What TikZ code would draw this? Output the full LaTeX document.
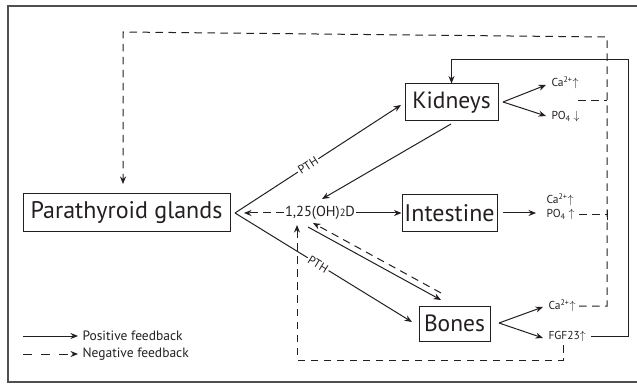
\documentclass[tikz,border=0pt]{standalone}
\usepackage{fontspec}
\setmainfont{PT Sans}
\usetikzlibrary{arrows.meta,calc}
\definecolor{ink}{HTML}{231F20}
\definecolor{framec}{HTML}{505050}
\begin{document}
\begin{tikzpicture}[x=1pt,y=-1pt,
  every path/.style={line width=1pt},
  box/.style={draw=ink, line width=1pt, inner sep=0pt, text=ink, font=\fontsize{24}{24}\selectfont},
  posarr/.style={draw=ink, -{Stealth[length=7.5pt,width=6pt]}},
  negarr/.style={draw=ink, dash pattern=on 7.5pt off 5.5pt, -{Stealth[length=7.5pt,width=6pt]}},
  negline/.style={draw=ink, dash pattern=on 7.5pt off 5.5pt},
  lab/.style={text=ink, inner sep=1pt, font=\fontsize{11.5}{11.5}\selectfont},
  ptl/.style={text=ink, fill=white, sloped, inner sep=1.5pt, font=\fontsize{12}{12}\selectfont},
  leg/.style={text=ink, inner sep=1pt, anchor=west, font=\fontsize{13.5}{13.5}\selectfont},
]
\useasboundingbox (0,0) rectangle (637,387);
% frame
\draw[framec, line width=1.3pt] (645,6) -- (8,6) -- (8,382) -- (645,382);

% main boxes
\node[box, minimum width=207pt, minimum height=38pt] (pg) at (126.5,213) {Parathyroid glands};
\node[box, minimum width=93pt, minimum height=37pt, font=\fontsize{23.5}{23.5}\selectfont] (kid) at (451.5,102.5) {Kidneys};
\node[box, minimum width=95pt, minimum height=37pt] (int) at (449.5,213) {Intestine};
\node[box, minimum width=71pt, minimum height=35pt, font=\fontsize{23.5}{23.5}\selectfont] (bon) at (454.5,323.5) {Bones};

% vitamin D
\node[text=ink, inner sep=1pt, font=\fontsize{14.5}{14.5}\selectfont] (d) at (320,213) {1,25(OH){\fontsize{10.5}{10.5}\selectfont 2}D};

% right-hand texts
\node[lab, anchor=west] (kca) at (550,83) {Ca\textsuperscript{2+}$\uparrow$};
\node[lab, anchor=west] (kpo) at (550,117) {PO\textsubscript{4} $\downarrow$};
\node[lab, anchor=west] (ica) at (545,200) {Ca\textsuperscript{2+}$\uparrow$};
\node[lab, anchor=west] (ipo) at (545,215) {PO\textsubscript{4} $\uparrow$};
\node[lab, anchor=west] (bca) at (547,306) {Ca\textsuperscript{2+}$\uparrow$};
\node[lab, anchor=west] (bfgf) at (547,336) {FGF23$\uparrow$};

% coordinates
\coordinate (ap) at (235,213);
\coordinate (kin) at (401,105);
\coordinate (bin) at (412,322);
\coordinate (dl) at (244,213);
\coordinate (ks) at (451,124);
\coordinate (dn) at (322,199);
\coordinate (s1) at (308,227);
\coordinate (s2) at (441,300);
\coordinate (n1) at (441,293);
\coordinate (n2) at (313,223);
\coordinate (kf) at (503,102);
\coordinate (kt1) at (546,85);
\coordinate (kt2) at (546,116);
\coordinate (bf) at (499,323);
\coordinate (bt1) at (543,307);
\coordinate (bt2) at (543,338);
\coordinate (ia) at (503,213);
\coordinate (ib) at (536,213);
\coordinate (b1) at (563,345);
\coordinate (bl) at (297,360);
\coordinate (btip) at (297,225);
\coordinate (tr) at (607,37);
\coordinate (tl) at (123,32);
\coordinate (ptip) at (123,184);
\coordinate (kbr) at (578,101);
\coordinate (rt) at (628,60);

% PTH arrows
\draw[posarr] (ap) -- node[ptl, pos=0.44] {PTH} (kin);
\draw[posarr] (ap) -- node[ptl, pos=0.47] {PTH} (bin);

% vitamin D arrows
\draw[negarr] (d.west) -- (dl);
\draw[posarr] (d.east) -- (int.west);
\draw[posarr] (ks) -- (dn);
\draw[posarr] (s1) -- (s2);
\draw[negarr] (n1) -- (n2);

% forks
\draw[posarr] (kf) -- (kt1);
\draw[posarr] (kf) -- (kt2);
\draw[posarr] (bf) -- (bt1);
\draw[posarr] (bf) -- (bt2);
\draw[posarr] (ia) -- (ib);

% negative feedback loops
\draw[negarr] (b1) |- (bl) -- (btip);
\draw[negarr] ($(bca.east)+(2,0)$) -| (tr) -- (tl) -- (ptip);
\draw[negline] (kbr) -- (kbr -| tr);
\draw[negline] ($(ipo.east)+(3,0)$) -- (ipo.east -| tr);
\draw[ink] ($(ipo.east -| tr)+(0,-5)$) -- ($(ipo.east -| tr)+(0,5)$);

% positive FGF23 loop
\draw[posarr] ($(bfgf.east)+(4,0)$) -| (rt) -| (kid.north);

% legend
\coordinate (la1) at (23,336);
\coordinate (lb1) at (78,336);
\coordinate (la2) at (23,354);
\coordinate (lb2) at (78,354);
\draw[posarr] (la1) -- (lb1);
\draw[draw=ink, dash pattern=on 9pt off 9pt, -{Stealth[length=7.5pt,width=6pt]}] (la2) -- (lb2);
\node[leg] (lt1) at (81,336) {Positive feedback};
\node[leg] (lt2) at (81,354) {Negative feedback};
\end{tikzpicture}
\end{document}
